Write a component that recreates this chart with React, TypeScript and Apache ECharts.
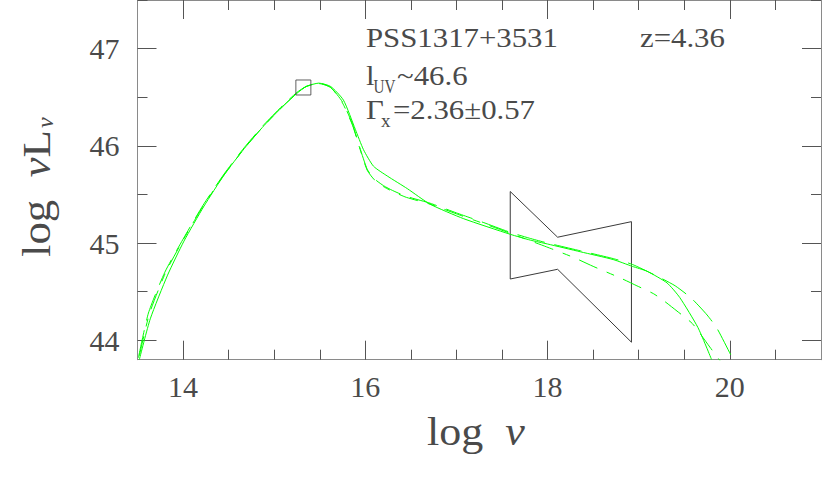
import React, { useEffect, useRef } from "react";
import * as echarts from "echarts";

// ---- axis ranges and ticks ----
const xMin = 13.5;
const xMax = 21;
const yMin = 43.8;
const yMax = 47.5;
const xMajorTicks = [14, 16, 18, 20];
const xMinorTicks = [14.5, 15, 15.5, 16.5, 17, 17.5, 18.5, 19, 19.5, 20.5];
const yMajorTicks = [44, 45, 46, 47];
const yMinorTicks = [44.5, 45.5, 46.5, 47.5];

// ---- SED model curves (log nu, log nuLnu) ----
const solidModel: [number, number][] = [
  [13.52, 43.8], [13.64, 44.22], [13.83, 44.67], [14.01, 45.02], [14.23, 45.38],
  [14.45, 45.7], [14.67, 45.97], [14.89, 46.21], [15.11, 46.42], [15.25, 46.54],
  [15.35, 46.61], [15.49, 46.645], [15.62, 46.61], [15.76, 46.47], [15.89, 46.17],
  [15.98, 45.96], [16.09, 45.79], [16.24, 45.69], [16.46, 45.56], [16.71, 45.4],
  [17.08, 45.25], [17.59, 45.09], [17.81, 45.03], [18.0, 44.99], [18.36, 44.91],
  [18.72, 44.83], [18.93, 44.76], [19.09, 44.71], [19.31, 44.59], [19.45, 44.44],
  [19.65, 44.13], [19.8, 43.8],
];

const dashedModel: [number, number][] = [
  [13.51, 43.82], [13.62, 44.28], [13.8, 44.7], [14.0, 45.04], [14.22, 45.39],
  [14.45, 45.71], [14.67, 45.98], [14.89, 46.22], [15.11, 46.43], [15.25, 46.55],
  [15.35, 46.61], [15.49, 46.645], [15.62, 46.6], [15.75, 46.45], [15.86, 46.22],
  [15.93, 46.01], [16.02, 45.76], [16.1, 45.66], [16.2, 45.59], [16.3, 45.54],
  [16.45, 45.48], [16.71, 45.41], [17.0, 45.31], [17.3, 45.21], [17.59, 45.11],
  [17.8, 45.05], [18.0, 45.0], [18.36, 44.92], [18.72, 44.84], [18.93, 44.78],
  [19.2, 44.66], [19.4, 44.56], [19.58, 44.43], [19.75, 44.26], [19.86, 44.12],
  [20.01, 43.85], [20.05, 43.78],
];

const dashDotModel: [number, number][] = [
  [13.52, 43.84], [13.63, 44.27], [13.81, 44.7], [14.0, 45.03], [14.22, 45.38],
  [14.45, 45.7], [14.67, 45.97], [14.89, 46.21], [15.11, 46.42], [15.25, 46.54],
  [15.35, 46.61], [15.49, 46.64], [15.62, 46.6], [15.75, 46.44], [15.86, 46.21],
  [15.93, 46.0], [16.02, 45.75], [16.1, 45.65], [16.2, 45.58], [16.3, 45.53],
  [16.45, 45.47], [16.71, 45.4], [17.0, 45.3], [17.3, 45.2], [17.59, 45.1],
  [17.99, 44.96], [18.29, 44.85], [18.5, 44.76], [18.8, 44.64], [18.98, 44.56],
  [19.16, 44.48], [19.27, 44.41], [19.42, 44.3], [19.59, 44.17], [19.78, 43.93],
  [19.9, 43.78],
];

// ---- X-ray bowtie and UV point ----
const xrayBowtie: [number, number][] = [
  [17.59, 45.53], [18.11, 45.06], [18.92, 45.22], [18.92, 43.98],
  [18.11, 44.73], [17.59, 44.63], [17.59, 45.53],
];
const uvPoint: [number, number][] = [[15.32, 46.6]];

// ---- annotation texts ----
const objectName = "PSS1317+3531";
const redshiftText = "z=4.36";
const luvMain = "l";
const luvSub = "UV";
const luvValue = "~46.6";
const gammaMain = "Γ";
const gammaSub = "x";
const gammaValue = "=2.36±0.57";

const FONT = '"Liberation Serif", "Times New Roman", serif';
const TEXT = "#4a4a4a";
const AXIS_LINE = "#8a8a8a";
const TICK = "#555555";
const GREEN = "#00ff00";

function txt(text: string, x: number, baseline: number, size: number, scaleX = 1, italic = false) {
  return {
    type: "text",
    x,
    y: baseline - 0.3375 * size,
    scaleX,
    silent: true,
    style: {
      text,
      fontFamily: FONT,
      fontSize: size,
      fontStyle: italic ? "italic" : "normal",
      fill: TEXT,
      align: "left",
      verticalAlign: "middle",
    },
  };
}

export default function App() {
  const ref = useRef<HTMLDivElement>(null);

  useEffect(() => {
    if (!ref.current) return;
    const chart = echarts.init(ref.current, undefined, { renderer: "svg" });

    const minorX = (position: string) => ({
      type: "value",
      position,
      min: xMin,
      max: xMax,
      axisLine: { show: true, onZero: false, lineStyle: { color: AXIS_LINE, width: 1 } },
      axisTick: { show: true, inside: true, length: 10, customValues: xMinorTicks, lineStyle: { color: TICK, width: 1 } },
      axisLabel: { show: false },
      splitLine: { show: false },
    });
    const majorX = (position: string, labels: boolean) => ({
      type: "value",
      position,
      min: xMin,
      max: xMax,
      axisLine: { show: false, onZero: false },
      axisTick: { show: true, inside: true, length: 19, customValues: xMajorTicks, lineStyle: { color: TICK, width: 1 } },
      axisLabel: labels
        ? { show: true, customValues: xMajorTicks, fontFamily: FONT, fontSize: 30, color: TEXT, margin: 12 }
        : { show: false },
      splitLine: { show: false },
    });
    const minorY = (position: string) => ({
      type: "value",
      position,
      min: yMin,
      max: yMax,
      axisLine: { show: true, onZero: false, lineStyle: { color: AXIS_LINE, width: 1 } },
      axisTick: { show: true, inside: true, length: 10, customValues: yMinorTicks, lineStyle: { color: TICK, width: 1 } },
      axisLabel: { show: false },
      splitLine: { show: false },
    });
    const majorY = (position: string, labels: boolean) => ({
      type: "value",
      position,
      min: yMin,
      max: yMax,
      axisLine: { show: false, onZero: false },
      axisTick: { show: true, inside: true, length: 19, customValues: yMajorTicks, lineStyle: { color: TICK, width: 1 } },
      axisLabel: labels
        ? { show: true, customValues: yMajorTicks, fontFamily: FONT, fontSize: 30, color: TEXT, margin: 18 }
        : { show: false },
      splitLine: { show: false },
    });

    const lineSeries = (data: [number, number][], type: any) => ({
      type: "line",
      xAxisIndex: 0,
      yAxisIndex: 0,
      data,
      showSymbol: false,
      symbol: "none",
      smooth: 0.2,
      clip: true,
      silent: true,
      lineStyle: { color: GREEN, width: 1, type },
      z: 3,
    });

    chart.setOption({
      animation: false,
      backgroundColor: "#ffffff",
      grid: { left: 137.5, right: 9, top: -4.75, bottom: 138.3, containLabel: false },
      xAxis: [minorX("bottom"), majorX("bottom", true), minorX("top"), majorX("top", false)],
      yAxis: [minorY("left"), majorY("left", true), minorY("right"), majorY("right", false)],
      series: [
        lineSeries(solidModel, "solid"),
        lineSeries(dashedModel, [28, 10]),
        lineSeries(dashDotModel, [20, 10, 8, 10]),
        {
          type: "line",
          xAxisIndex: 0,
          yAxisIndex: 0,
          data: xrayBowtie,
          showSymbol: false,
          symbol: "none",
          silent: true,
          lineStyle: { color: "#3a3a3a", width: 1 },
          z: 2,
        },
        {
          type: "scatter",
          xAxisIndex: 0,
          yAxisIndex: 0,
          data: uvPoint,
          symbol: "rect",
          symbolSize: 15,
          silent: true,
          itemStyle: { color: "rgba(0,0,0,0)", borderColor: "#3a3a3a", borderWidth: 1 },
          z: 4,
        },
      ],
      graphic: [
        txt(objectName, 366, 47, 28, 1.1),
        txt(redshiftText, 640, 47, 28, 1.1),
        txt(luvMain, 366, 85, 28, 1.1),
        txt(luvSub, 373.5, 93, 19, 0.8),
        txt(luvValue, 397, 85, 28, 1.1),
        txt(gammaMain, 366, 119, 28, 1.1),
        txt(gammaSub, 381, 127, 19, 1),
        txt(gammaValue, 393, 119, 28, 1.1),
        {
          type: "text",
          x: 427,
          y: 445 - 13.5,
          scaleX: 1.1,
          silent: true,
          style: {
            text: "{a|log  }{b|ν}",
            align: "left",
            verticalAlign: "middle",
            fill: TEXT,
            rich: {
              a: { fontFamily: FONT, fontSize: 40, fill: TEXT },
              b: { fontFamily: FONT, fontSize: 40, fontStyle: "italic", fill: TEXT },
            },
          },
        },
        {
          type: "group",
          x: 50,
          y: 257,
          rotation: Math.PI / 2,
          silent: true,
          children: [
            {
              type: "text",
              x: 0,
              y: -13.5,
              scaleX: 1.12,
              style: {
                text: "{a|log  }{b|ν}{a|L}",
                align: "left",
                verticalAlign: "middle",
                fill: TEXT,
                rich: {
                  a: { fontFamily: FONT, fontSize: 40, fill: TEXT },
                  b: { fontFamily: FONT, fontSize: 40, fontStyle: "italic", fill: TEXT },
                },
              },
            },
            {
              type: "text",
              x: 129,
              y: 3 - 0.3375 * 24,
              style: {
                text: "ν",
                fontFamily: FONT,
                fontSize: 24,
                fontStyle: "italic",
                fill: TEXT,
                align: "left",
                verticalAlign: "middle",
              },
            },
          ],
        },
      ],
    });

    return () => {
      chart.dispose();
    };
  }, []);

  return (
    <div
      ref={ref}
      style={{ position: "absolute", left: 0, top: 0, width: 830, height: 498, background: "#fff" }}
    />
  );
}
